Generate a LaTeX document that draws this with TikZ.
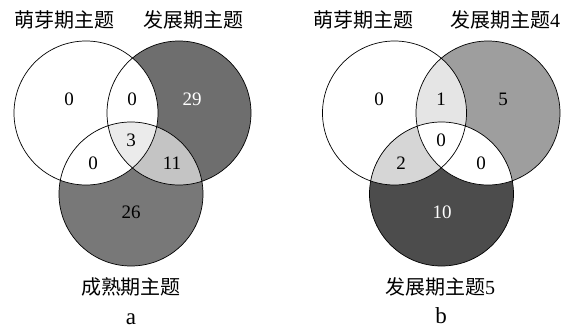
\documentclass[tikz,border=0pt]{standalone}
\usepackage{fontspec}
\setmainfont{Liberation Serif}
\newfontfamily\cjk{Noto Sans CJK SC}
\begin{document}
\begin{tikzpicture}[x=1pt,y=-1pt,
  ring/.style={draw=black,line width=0.7pt},
  num/.style={font=\fontsize{19}{19}\selectfont,inner sep=0pt},
  setlabel/.style={font=\fontsize{20}{20}\selectfont,inner sep=0pt},
  sub/.style={font=\fontsize{23}{23}\selectfont,inner sep=0pt}]
\useasboundingbox (0,0) rectangle (563,329);
\def\R{72}
% ---------- a ----------
\coordinate (aA) at (86,113);
\coordinate (aB) at (179,113);
\coordinate (aC) at (131,194);
\fill[white] (aA) circle (\R);
\fill[black!57] (aB) circle (\R);
\fill[black!53] (aC) circle (\R);
\begin{scope}\clip (aA) circle (\R); \fill[white] (aB) circle (\R); \fill[white] (aC) circle (\R);\end{scope}
\begin{scope}\clip (aB) circle (\R); \fill[black!23] (aC) circle (\R);\end{scope}
\begin{scope}\clip (aA) circle (\R); \clip (aB) circle (\R); \fill[black!8] (aC) circle (\R);\end{scope}
\draw[ring] (aA) circle (\R) (aB) circle (\R) (aC) circle (\R);
\node[num] (a1) at (69,99) {0};
\node[num] (a2) at (132,99) {0};
\node[num,text=white] (a3) at (192,99) {29};
\node[num] (a4) at (131,140) {3};
\node[num] (a5) at (93,163) {0};
\node[num] (a6) at (172,163) {11};
\node[num] (a7) at (131,212) {26};
\node[setlabel] (aLA) at (65,20) {\cjk 萌芽期主题};
\node[setlabel] (aLB) at (193,20) {\cjk 发展期主题};
\node[setlabel] (aLC) at (131,287) {\cjk 成熟期主题};
\node[sub] (aT) at (131,319) {a};
% ---------- b ----------
\coordinate (bA) at (394.5,113);
\coordinate (bB) at (488,113);
\coordinate (bC) at (441.5,194);
\fill[white] (bA) circle (\R);
\fill[black!38] (bB) circle (\R);
\fill[black!70] (bC) circle (\R);
\begin{scope}\clip (bA) circle (\R); \fill[black!10] (bB) circle (\R); \fill[black!16] (bC) circle (\R);\end{scope}
\begin{scope}\clip (bB) circle (\R); \fill[white] (bC) circle (\R);\end{scope}
\begin{scope}\clip (bA) circle (\R); \clip (bB) circle (\R); \fill[white] (bC) circle (\R);\end{scope}
\draw[ring] (bA) circle (\R) (bB) circle (\R) (bC) circle (\R);
\node[num] (b1) at (379,99) {0};
\node[num] (b2) at (441,99) {1};
\node[num] (b3) at (503,99) {5};
\node[num] (b4) at (441,140) {0};
\node[num] (b5) at (401,163) {2};
\node[num] (b6) at (481,163) {0};
\node[num,text=white] (b7) at (442,212) {10};
\node[setlabel] (bLA) at (363,20) {\cjk 萌芽期主题};
\node[setlabel] (bLB) at (505,20) {{\cjk 发展期主题}4};
\node[setlabel] (bLC) at (440,287) {{\cjk 发展期主题}5};
\node[sub] (bT) at (441,316) {b};
\end{tikzpicture}
\end{document}
